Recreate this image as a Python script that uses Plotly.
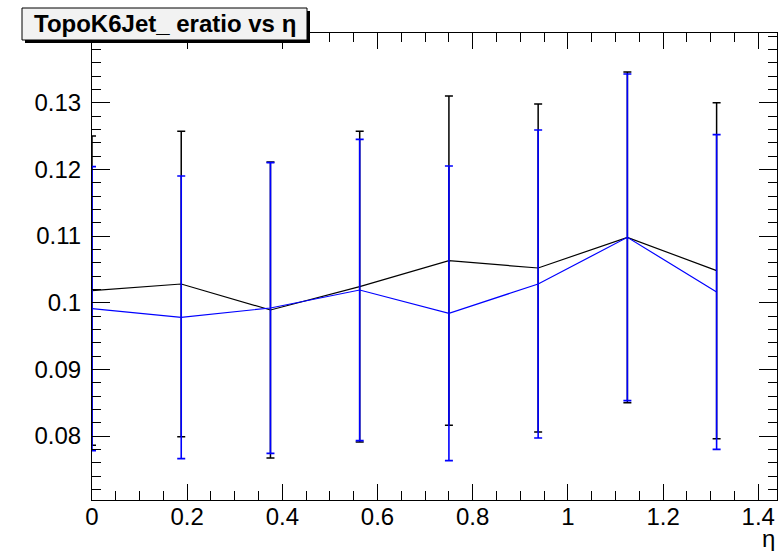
import plotly.graph_objects as go

# ---- data ----
eta = [0, 0.1875, 0.375, 0.5625, 0.75, 0.9375, 1.125, 1.3125]
black_ratio = [0.1018, 0.1028, 0.0989, 0.1024, 0.1063, 0.1052, 0.1098, 0.1048]
black_err = [0.0232, 0.0229, 0.0222, 0.0233, 0.0247, 0.0246, 0.0248, 0.0252]
blue_ratio = [0.0991, 0.0978, 0.0992, 0.1019, 0.0984, 0.1028, 0.1098, 0.1016]
blue_err = [0.0213, 0.0212, 0.0218, 0.0226, 0.0221, 0.0231, 0.0245, 0.0236]

y_ticks = [0.08, 0.09, 0.10, 0.11, 0.12, 0.13]
y_ticklabels = ["0.08", "0.09", "0.1", "0.11", "0.12", "0.13"]
x_ticks = [0, 0.2, 0.4, 0.6, 0.8, 1.0, 1.2, 1.4]
x_ticklabels = ["0", "0.2", "0.4", "0.6", "0.8", "1", "1.2", "1.4"]

title_text = "TopoK6Jet_ eratio vs η"
x_title = "η"

FONT = "Liberation Sans, Arial, Helvetica, sans-serif"

fig = go.Figure()
fig.add_trace(go.Scatter(
    x=eta, y=black_ratio, mode="lines",
    line=dict(color="#000000", width=1.2),
    error_y=dict(type="data", array=black_err, visible=True,
                 color="#000000", thickness=1.5, width=4),
    cliponaxis=False, showlegend=False, hoverinfo="skip"))
fig.add_trace(go.Scatter(
    x=eta, y=blue_ratio, mode="lines",
    line=dict(color="#0000ff", width=1.2),
    error_y=dict(type="data", array=blue_err, visible=True,
                 color="#0000ff", thickness=1.6, width=4),
    cliponaxis=False, showlegend=False, hoverinfo="skip"))

W, H = 781, 551
L, R, T, B = 92, 4, 33, 51
pw, ph = W - L - R, H - T - B


def px(x):
    return (x - L) / pw


def py(y):
    return (H - B - y) / ph


fig.update_layout(
    width=W, height=H,
    margin=dict(l=L, r=R, t=T, b=B, pad=0),
    paper_bgcolor="white", plot_bgcolor="white",
    font=dict(family=FONT, size=24, color="black"),
    xaxis=dict(
        range=[0, 1.4394], showgrid=False, zeroline=False,
        showline=True, linecolor="black", linewidth=1, mirror="allticks",
        ticks="inside", ticklen=16, tickwidth=1, tickcolor="black",
        tickvals=x_ticks, ticktext=x_ticklabels,
        minor=dict(dtick=0.05, tick0=0, ticks="inside", ticklen=9,
                   tickwidth=1, tickcolor="black", showgrid=False),
        tickfont=dict(size=24, family=FONT, color="black"),
        ticklabelstandoff=-5,
    ),
    yaxis=dict(
        range=[0.0704, 0.14045], showgrid=False, zeroline=False,
        showline=True, linecolor="black", linewidth=1, mirror="allticks",
        ticks="inside", ticklen=18, tickwidth=1, tickcolor="black",
        tickvals=y_ticks, ticktext=y_ticklabels,
        minor=dict(dtick=0.002, tick0=0, ticks="inside", ticklen=9,
                   tickwidth=1, tickcolor="black", showgrid=False),
        tickfont=dict(size=24, family=FONT, color="black"),
        ticklabelstandoff=5,
    ),
    shapes=[
        dict(type="rect", xref="paper", yref="paper",
             x0=px(25), x1=px(310), y0=py(43), y1=py(11),
             fillcolor="black", line=dict(width=0), layer="above"),
        dict(type="rect", xref="paper", yref="paper",
             x0=px(22), x1=px(307), y0=py(40), y1=py(8),
             fillcolor="#f2f2f2", line=dict(color="black", width=1),
             layer="above"),
    ],
    annotations=[
        dict(text="<b>" + title_text + "</b>", xref="paper", yref="paper",
             x=px(164.5), y=py(23.5), xanchor="center", yanchor="middle",
             showarrow=False, font=dict(size=24, family=FONT, color="black")),
        dict(text=x_title, xref="paper", yref="paper",
             x=1, y=py(538), xanchor="right", yanchor="middle",
             showarrow=False, font=dict(size=24, family=FONT, color="black")),
    ],
)

fig.write_html("out.html")
